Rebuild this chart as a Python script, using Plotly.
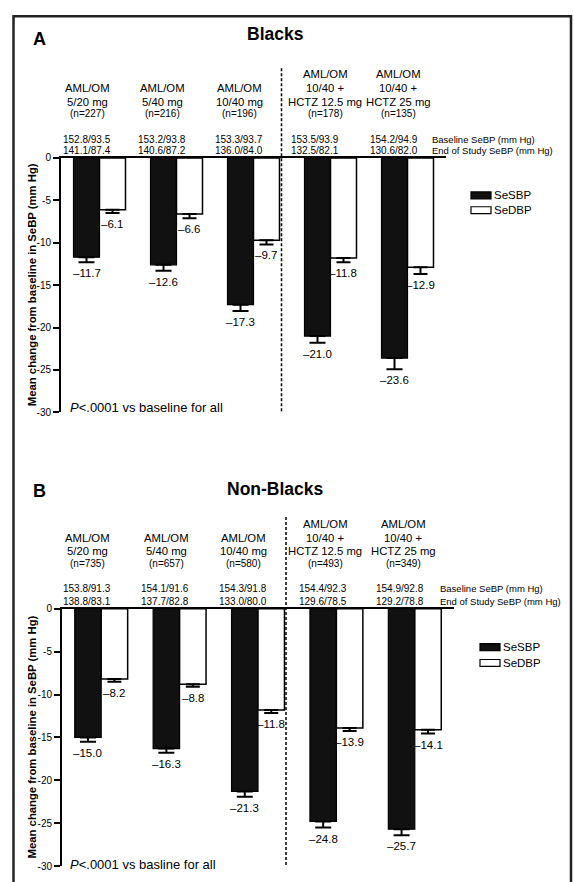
import plotly.graph_objects as go

# ---------------- data ----------------
groups = ["AML/OM 5/20 mg", "AML/OM 5/40 mg", "AML/OM 10/40 mg",
          "AML/OM 10/40 + HCTZ 12.5 mg", "AML/OM 10/40 + HCTZ 25 mg"]
dose_lines = [["AML/OM", "5/20 mg"], ["AML/OM", "5/40 mg"], ["AML/OM", "10/40 mg"],
              ["AML/OM", "10/40 +", "HCTZ 12.5 mg"], ["AML/OM", "10/40 +", "HCTZ 25 mg"]]
series_names = ["SeSBP", "SeDBP"]

n_blacks = [227, 216, 196, 178, 135]
baseline_blacks = ["152.8/93.5", "153.2/93.8", "153.3/93.7", "153.5/93.9", "154.2/94.9"]
end_blacks = ["141.1/87.4", "140.6/87.2", "136.0/84.0", "132.5/82.1", "130.6/82.0"]
sbp_blacks = [-11.7, -12.6, -17.3, -21.0, -23.6]
dbp_blacks = [-6.1, -6.6, -9.7, -11.8, -12.9]
sbp_err_blacks = [0.6, 0.7, 0.75, 0.8, 1.3]
dbp_err_blacks = [0.4, 0.5, 0.5, 0.5, 0.8]

n_nonblacks = [735, 657, 580, 493, 349]
baseline_nonblacks = ["153.8/91.3", "154.1/91.6", "154.3/91.8", "154.4/92.3", "154.9/92.8"]
end_nonblacks = ["138.8/83.1", "137.7/82.8", "133.0/80.0", "129.6/78.5", "129.2/78.8"]
sbp_nonblacks = [-15.0, -16.3, -21.3, -24.8, -25.7]
dbp_nonblacks = [-8.2, -8.8, -11.8, -13.9, -14.1]
sbp_err_nonblacks = [0.5, 0.5, 0.6, 0.7, 0.7]
dbp_err_nonblacks = [0.3, 0.3, 0.35, 0.35, 0.45]

tick_vals = [0, -5, -10, -15, -20, -25, -30]
tick_text = ["0", "-5", "-10", "-15", "-20", "-25", "-30"]

# ---------------- layout helpers ----------------
W, H = 574, 882
FONT = "Liberation Sans, Arial, Helvetica, sans-serif"
SBP_COLOR = "#111111"


def PX(x):
    return x / W


def PY(y):
    return 1 - y / H


BARGAP = 0.325
D = (1 - BARGAP) / 4  # offset of each bar centre from group centre

panels = [
    dict(letter="A", title="Blacks", sbp=sbp_blacks, dbp=dbp_blacks,
         sbp_err=sbp_err_blacks, dbp_err=dbp_err_blacks, n=n_blacks,
         base=baseline_blacks, end=end_blacks, xa="x", ya="y",
         xdom=(61, 446), ytop=154, ybot=412, title_y=28, letter_y=33,
         lab_x=[87, 162, 239, 325, 398], bp_x=[87, 162, 239, 315, 394],
         n_y=109, bp_y=(135, 146), right_x=430, dash_x=281.5, dash_top=63,
         leg_x=471, leg_y=(192, 207), pnote="<i>P</i>&lt;.0001 vs baseline for all", p_y=407),
    dict(letter="B", title="Non-Blacks", sbp=sbp_nonblacks, dbp=dbp_nonblacks,
         sbp_err=sbp_err_nonblacks, dbp_err=dbp_err_nonblacks, n=n_nonblacks,
         base=baseline_nonblacks, end=end_nonblacks, xa="x2", ya="y2",
         xdom=(62, 454), ytop=611, ybot=872, title_y=490, letter_y=492,
         lab_x=[87, 166, 243, 325, 403], bp_x=[87, 165, 243, 323, 400],
         n_y=565, bp_y=(591, 604), right_x=438, dash_x=286, dash_top=518,
         leg_x=480, leg_y=(650, 666), pnote="<i>P</i>&lt;.0001 vs basline for all", p_y=870),
]

fig = go.Figure()
annotations = []
shapes = []
layout_axes = {}

for k, p in enumerate(panels):
    fig.add_trace(go.Bar(
        x=groups, y=p["sbp"], name=series_names[0], xaxis=p["xa"], yaxis=p["ya"],
        marker=dict(color=SBP_COLOR, line=dict(color="black", width=1.2)),
        error_y=dict(type="data", symmetric=False, array=[0] * 5, arrayminus=p["sbp_err"],
                     color="black", thickness=2, width=8),
        showlegend=False, hoverinfo="skip"))
    fig.add_trace(go.Bar(
        x=groups, y=p["dbp"], name=series_names[1], xaxis=p["xa"], yaxis=p["ya"],
        marker=dict(color="white", line=dict(color="black", width=1.5)),
        error_y=dict(type="data", symmetric=False, array=[0] * 5, arrayminus=p["dbp_err"],
                     color="black", thickness=2, width=7),
        showlegend=False, hoverinfo="skip"))

    sfx = "" if k == 0 else "2"
    layout_axes["xaxis" + sfx] = dict(
        domain=[PX(p["xdom"][0]), PX(p["xdom"][1])], range=[-0.5, 4.5], anchor="y" + sfx,
        side="top", showline=True, linecolor="black", linewidth=1.5,
        showticklabels=False, ticks="", showgrid=False, zeroline=False)
    layout_axes["yaxis" + sfx] = dict(
        domain=[PY(p["ybot"]), PY(p["ytop"])], range=[-30, 0], anchor="x" + sfx,
        showline=True, linecolor="black", linewidth=2, ticks="outside", ticklen=6,
        tickwidth=1.5, tickcolor="black", tickvals=tick_vals, ticktext=tick_text,
        tickfont=dict(size=10, color="black"), showgrid=False, zeroline=False)

    # value labels under the error bars
    for i in range(5):
        for val, err, off in ((p["sbp"][i], p["sbp_err"][i], -D),
                              (p["dbp"][i], p["dbp_err"][i], D)):
            annotations.append(dict(
                x=i + off, y=val - err, xref=p["xa"], yref=p["ya"],
                text="\u2013%.1f" % abs(val), showarrow=False, yanchor="top",
                xanchor="center", yshift=-3, font=dict(size=11.5)))

    # group labels
    for i in range(5):
        lines = dose_lines[i]
        for j, t in enumerate(reversed(lines)):
            annotations.append(dict(
                x=PX(p["lab_x"][i]), y=PY(p["n_y"] - 12 - 14 * j), xref="paper", yref="paper",
                text=t, showarrow=False, xanchor="center", yanchor="middle",
                font=dict(size=11.3)))
        annotations.append(dict(
            x=PX(p["lab_x"][i]), y=PY(p["n_y"]), xref="paper", yref="paper",
            text="(n=%d)" % p["n"][i], showarrow=False, xanchor="center", yanchor="middle",
            font=dict(size=10)))
        annotations.append(dict(
            x=PX(p["bp_x"][i]), y=PY(p["bp_y"][0]), xref="paper", yref="paper",
            text=p["base"][i], showarrow=False, xanchor="center", yanchor="middle",
            font=dict(size=10)))
        annotations.append(dict(
            x=PX(p["bp_x"][i]), y=PY(p["bp_y"][1]), xref="paper", yref="paper",
            text=p["end"][i], showarrow=False, xanchor="center", yanchor="middle",
            font=dict(size=10)))

    annotations.append(dict(x=PX(p["right_x"]), y=PY(p["bp_y"][0]), xref="paper", yref="paper",
                            text="Baseline SeBP (mm Hg)", showarrow=False, xanchor="left",
                            yanchor="middle", font=dict(size=9.5)))
    annotations.append(dict(x=PX(p["right_x"]), y=PY(p["bp_y"][1]), xref="paper", yref="paper",
                            text="End of Study SeBP (mm Hg)", showarrow=False, xanchor="left",
                            yanchor="middle", font=dict(size=9.5)))

    # panel letter and title
    annotations.append(dict(x=PX(31), y=PY(p["letter_y"]), xref="paper", yref="paper",
                            text="<b>%s</b>" % p["letter"], showarrow=False, xanchor="left",
                            yanchor="middle", font=dict(size=18)))
    annotations.append(dict(x=PX(275), y=PY(p["title_y"]), xref="paper", yref="paper",
                            text="<b>%s</b>" % p["title"], showarrow=False, xanchor="center",
                            yanchor="middle", font=dict(size=17.5)))

    # y-axis title
    annotations.append(dict(x=PX(32), y=PY((p["ytop"] + p["ybot"]) / 2), xref="paper",
                            yref="paper", text="<b>Mean change from baseline in SeBP (mm Hg)</b>",
                            showarrow=False, textangle=-90, xanchor="center", yanchor="middle",
                            font=dict(size=11.3)))

    # p-value note
    annotations.append(dict(x=PX(68), y=PY(p["p_y"]), xref="paper", yref="paper",
                            text=p["pnote"], showarrow=False, xanchor="left", yanchor="middle",
                            font=dict(size=13)))

    # dashed separator
    shapes.append(dict(type="line", xref="paper", yref="paper",
                       x0=PX(p["dash_x"]), x1=PX(p["dash_x"]),
                       y0=PY(p["dash_top"]), y1=PY(p["ybot"]),
                       line=dict(color="black", width=1.5, dash="3px,2px")))

    # legend (swatch + label per series)
    for j, (name, fill) in enumerate(zip(series_names, [SBP_COLOR, "white"])):
        yc = p["leg_y"][j]
        shapes.append(dict(type="rect", xref="paper", yref="paper",
                           x0=PX(p["leg_x"]), x1=PX(p["leg_x"] + 20),
                           y0=PY(yc + 3.5), y1=PY(yc - 3.5),
                           fillcolor=fill, line=dict(color="black", width=1.2)))
        annotations.append(dict(x=PX(p["leg_x"] + 21), y=PY(yc), xref="paper", yref="paper",
                                text=name, showarrow=False, xanchor="left", yanchor="middle",
                                font=dict(size=11.5)))

# outer frame
shapes.append(dict(type="rect", xref="paper", yref="paper", x0=PX(13.5), x1=PX(571),
                   y0=-0.05, y1=PY(10.5), line=dict(color="#222222", width=2.5),
                   fillcolor="rgba(0,0,0,0)"))

fig.update_layout(
    width=W, height=H, autosize=False,
    margin=dict(l=0, r=0, t=0, b=0),
    paper_bgcolor="white", plot_bgcolor="white",
    font=dict(family=FONT, color="black"),
    barmode="group", bargap=BARGAP, bargroupgap=0,
    showlegend=False,
    annotations=annotations, shapes=shapes,
    **layout_axes)

fig.write_html("out.html", config={"displayModeBar": False},
               post_script="document.body.style.margin='0px';document.body.style.overflow='hidden';")
